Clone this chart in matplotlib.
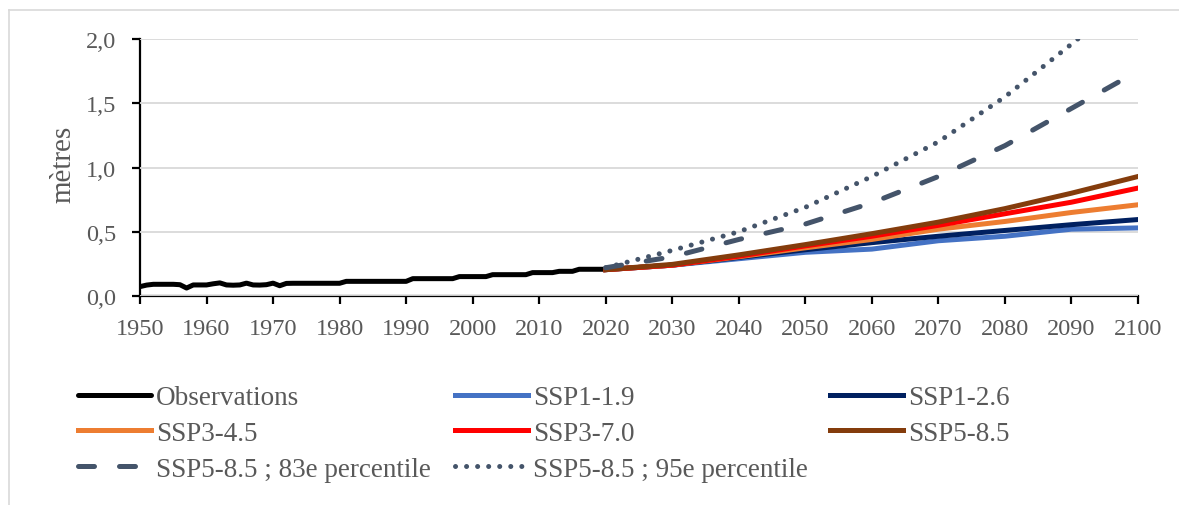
import numpy as np
import matplotlib
matplotlib.use("Agg")
import matplotlib.pyplot as plt
from matplotlib.lines import Line2D

plt.rcParams['font.family'] = ['Liberation Serif', 'DejaVu Serif']

# observations, yearly 1950-2020 (m)
obs_years = np.arange(1950, 2021)
obs_vals = [0.073, 0.085, 0.091, 0.091, 0.091, 0.091, 0.088, 0.062, 0.086, 0.086,
            0.086, 0.095, 0.102, 0.086, 0.084, 0.086, 0.100, 0.086, 0.085, 0.088,
            0.100, 0.080, 0.098, 0.099, 0.099, 0.099, 0.099, 0.099, 0.099, 0.099,
            0.099, 0.114, 0.114, 0.114, 0.114, 0.114, 0.114, 0.114, 0.114, 0.114,
            0.114, 0.135, 0.135, 0.135, 0.135, 0.135, 0.135, 0.135, 0.151, 0.151,
            0.151, 0.151, 0.151, 0.166, 0.166, 0.166, 0.166, 0.166, 0.166, 0.182,
            0.182, 0.182, 0.182, 0.192, 0.192, 0.192, 0.208, 0.208, 0.208, 0.208,
            0.208]

# projections, every 10 years 2020-2100 (m)
proj_years = np.arange(2020, 2101, 10)
ssp119 = [0.205, 0.24, 0.29, 0.34, 0.365, 0.43, 0.465, 0.52, 0.53]
ssp126 = [0.205, 0.24, 0.30, 0.36, 0.415, 0.465, 0.51, 0.555, 0.595]
ssp345 = [0.205, 0.24, 0.305, 0.375, 0.44, 0.52, 0.58, 0.65, 0.71]
ssp370 = [0.205, 0.24, 0.31, 0.39, 0.465, 0.55, 0.64, 0.73, 0.84]
ssp585 = [0.205, 0.246, 0.32, 0.40, 0.485, 0.575, 0.68, 0.80, 0.93]
ssp585_p83 = [0.22, 0.305, 0.44, 0.56, 0.725, 0.93, 1.17, 1.46, 1.75]
ssp585_p95 = [0.22, 0.355, 0.50, 0.69, 0.93, 1.20, 1.55, 1.96, 2.38]

grey_txt = '#595959'
lw = 3.6

fig = plt.figure(figsize=(11.79, 5.06), dpi=100)
ax = fig.add_axes([140/1179, 1-297/506, (1138-140)/1179, (297-40)/506])

ax.plot(obs_years, obs_vals, color='black', lw=lw, solid_capstyle='round', label='Observations')
ax.plot(proj_years, ssp119, color='#4472C4', lw=lw, label='SSP1-1.9')
ax.plot(proj_years, ssp126, color='#002060', lw=lw, label='SSP1-2.6')
ax.plot(proj_years, ssp345, color='#ED7D31', lw=lw, label='SSP3-4.5')
ax.plot(proj_years, ssp370, color='#FF0000', lw=lw, label='SSP3-7.0')
ax.plot(proj_years, ssp585, color='#843C0C', lw=lw, label='SSP5-8.5')
ax.plot(proj_years, ssp585_p83, color='#44546A', lw=lw, dashes=(3.2, 5.0),
        dash_capstyle='round', label='SSP5-8.5 ; 83e percentile')
ax.plot(proj_years, ssp585_p95, color='#44546A', lw=lw, linestyle=(0, (0.01, 2.2)),
        dash_capstyle='round', label='SSP5-8.5 ; 95e percentile')

ax.set_xlim(1950, 2100)
ax.set_ylim(0, 2.0)
ax.set_xticks(np.arange(1950, 2101, 10))
ax.set_yticks([0, 0.5, 1.0, 1.5, 2.0])
ax.set_yticklabels(['0,0', '0,5', '1,0', '1,5', '2,0'])
ax.grid(axis='y', color='#D9D9D9', lw=1.3)
ax.set_axisbelow(True)
for s in ['top', 'right']:
    ax.spines[s].set_visible(False)
for s in ['left', 'bottom']:
    ax.spines[s].set_linewidth(1.6)
    ax.spines[s].set_zorder(0.5)
ax.tick_params(axis='both', direction='out', length=6, width=1.6, colors='black',
               labelcolor=grey_txt, labelsize=17.5)
ax.tick_params(axis='y', pad=11)
ax.tick_params(axis='x', pad=10)
ax.set_ylabel('mètres', color=grey_txt, fontsize=21)
ax.yaxis.set_label_coords(-64/998, 0.515)

# legend in three columns placed by hand
handles, labels = ax.get_legend_handles_labels()
cols = [[0, 3, 6], [1, 4, 7], [2, 5]]
col_x = [78/1179, 455/1179, 830/1179]
for xs, idx in zip(col_x, cols):
    fig.legend([handles[i] for i in idx], [labels[i] for i in idx],
               loc='upper left', bbox_to_anchor=(xs, 1-386/506), frameon=False,
               fontsize=19.5, handlelength=2.7, handletextpad=0.18,
               labelspacing=0.4, labelcolor=grey_txt, borderaxespad=0,
               borderpad=0)

# thin outer frame lines (top and left)
fig.add_artist(Line2D([9/1179, 1], [1-11/506, 1-11/506], color='#D9D9D9', lw=1.2))
fig.add_artist(Line2D([9/1179, 9/1179], [0, 1-11/506], color='#D9D9D9', lw=1.2))

fig.savefig('out.png', dpi=100)
